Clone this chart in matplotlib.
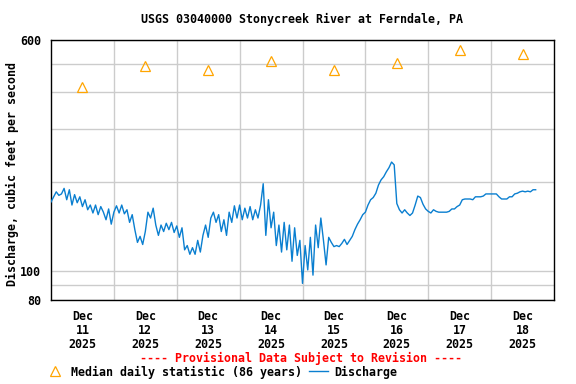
import matplotlib
matplotlib.use('Agg')
import matplotlib.pyplot as plt
import numpy as np

# hourly discharge (cfs), starting Dec 11 2025 00:00
discharge = [
    171, 178, 185, 180, 182, 190, 174, 188, 167, 181, 170, 178,
    165, 174, 161, 167, 157, 167, 155, 165, 158, 149, 162, 144,
    158, 166, 157, 167, 156, 161, 146, 155, 138, 125, 131, 123,
    136, 158, 151, 163, 143, 132, 143, 136, 145, 138, 146, 135,
    142, 130, 140, 118, 122, 114, 120, 114, 127, 116, 132, 143,
    130, 151, 158, 146, 155, 136, 149, 132, 158, 146, 166, 151,
    167, 149, 163, 151, 165, 149, 161, 151, 167, 197, 132, 174,
    140, 158, 122, 143, 116, 146, 118, 143, 108, 140, 113, 127,
    91, 122, 101, 130, 97, 143, 120, 151, 127, 105, 130, 125,
    121, 122, 121, 124, 128, 123, 127, 131, 138, 144, 149, 155,
    158, 167, 174, 177, 183, 195, 203, 208, 216, 223, 233, 228,
    169, 161, 157, 161, 157, 154, 157, 167, 179, 177, 168, 162,
    159, 157, 161, 159, 158, 158, 158, 158, 159, 162, 162, 165,
    167, 174, 175, 175, 175, 174, 178, 178, 178, 179, 182, 182,
    182, 182, 182, 178, 175, 175, 175, 178, 178, 182, 183, 185,
    186, 185, 186, 185, 188, 188,
]

# median daily statistic (86 years), one per day at noon
median_daily = [418, 492, 475, 508, 475, 503, 557, 540]

day_labels = ['Dec\n11\n2025', 'Dec\n12\n2025', 'Dec\n13\n2025', 'Dec\n14\n2025',
              'Dec\n15\n2025', 'Dec\n16\n2025', 'Dec\n17\n2025', 'Dec\n18\n2025']

font = 'DejaVu Sans Mono'
fs = 8.4
plt.rcParams['font.family'] = font
plt.rcParams['font.weight'] = 'bold'

fig = plt.figure(figsize=(5.76, 3.84), dpi=100)
ax = fig.add_axes([51 / 576, 1 - 300 / 384, 503 / 576, 260 / 384])

t = np.arange(len(discharge)) / 24.0
ax.plot(t, discharge, color='#0A7FD0', linewidth=1.0, zorder=3)

t_med = np.arange(len(median_daily)) + 0.5
ax.plot(t_med, median_daily, linestyle='none', marker='^', markersize=6.5,
        markerfacecolor='none', markeredgecolor='#FFA500', markeredgewidth=0.9, zorder=4)

ax.set_yscale('log')
ax.set_ylim(80, 600)
ax.set_xlim(0, 8)

ax.set_yticks([80, 100, 600])
ax.set_yticklabels(['80', '100', '600'])
ax.set_yticks([90, 200, 300, 400, 500], minor=True)
ax.yaxis.set_minor_formatter(matplotlib.ticker.NullFormatter())

ax.set_xticks(t_med)
ax.set_xticklabels(day_labels, linespacing=1.1)
ax.set_xticks(np.arange(1, 8), minor=True)

ax.tick_params(axis='both', which='both', length=0, labelsize=fs)
ax.tick_params(axis='x', pad=7)
ax.tick_params(axis='y', pad=7)
for lab in ax.get_xticklabels() + ax.get_yticklabels():
    lab.set_fontweight('bold')

ax.grid(True, axis='y', which='both', color='#cccccc', linewidth=1.0)
ax.grid(True, axis='x', which='minor', color='#cccccc', linewidth=1.0)
ax.grid(False, axis='x', which='major')
ax.set_axisbelow(True)

for spine in ax.spines.values():
    spine.set_color('black')
    spine.set_linewidth(1.0)

fig.text(302 / 576, 1 - 19 / 384, 'USGS 03040000 Stonycreek River at Ferndale, PA',
         ha='center', va='center', fontsize=fs, fontweight='bold')
fig.text(12 / 576, 1 - 174 / 384, 'Discharge, cubic feet per second', rotation=90,
         ha='center', va='center', fontsize=fs, fontweight='bold')
fig.text(301 / 576, 1 - 358 / 384, '---- Provisional Data Subject to Revision ----',
         ha='center', va='center', fontsize=fs, fontweight='bold', color='red')

h_med, = ax.plot([], [], linestyle='none', marker='^', markersize=6.5,
                 markerfacecolor='none', markeredgecolor='#FFA500', markeredgewidth=0.9)
h_q, = ax.plot([], [], color='#0A7FD0', linewidth=1.0)
leg = fig.legend([h_med, h_q], ['Median daily statistic (86 years)', 'Discharge'],
                 loc='center left', bbox_to_anchor=(46 / 576, 1 - 372 / 384), ncol=2,
                 frameon=False, fontsize=fs, handlelength=1.6, handletextpad=0.55,
                 columnspacing=0.6, borderpad=0, borderaxespad=0)
for txt in leg.get_texts():
    txt.set_fontweight('bold')

fig.savefig('out.png', dpi=100)
